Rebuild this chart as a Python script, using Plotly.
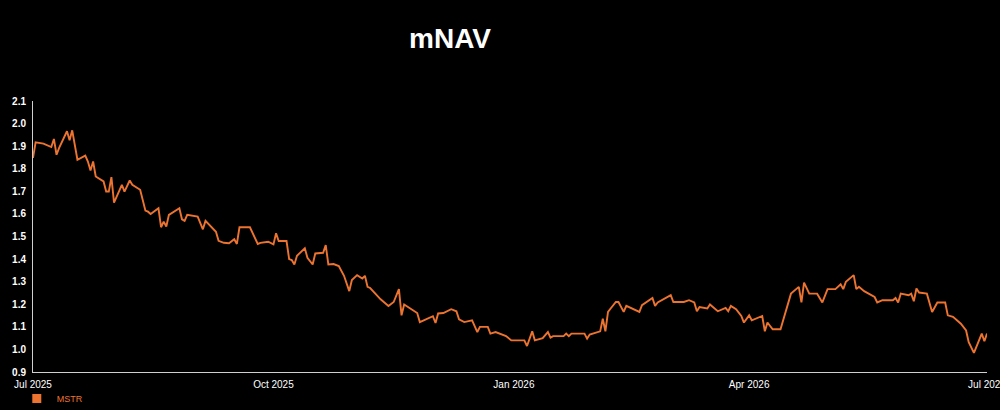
import plotly.graph_objects as go

# mNAV of MSTR
dates = [
    "2025-07-01", "2025-07-02", "2025-07-05", "2025-07-07", "2025-07-08", "2025-07-09",
    "2025-07-10", "2025-07-11", "2025-07-14", "2025-07-15", "2025-07-16", "2025-07-18",
    "2025-07-21", "2025-07-22", "2025-07-23", "2025-07-24", "2025-07-25", "2025-07-28",
    "2025-07-29", "2025-07-30", "2025-07-31", "2025-08-01", "2025-08-03", "2025-08-04",
    "2025-08-05", "2025-08-07", "2025-08-08", "2025-08-11", "2025-08-13", "2025-08-14",
    "2025-08-15", "2025-08-18", "2025-08-19", "2025-08-20", "2025-08-21", "2025-08-22",
    "2025-08-26", "2025-08-27", "2025-08-28", "2025-08-29", "2025-09-02", "2025-09-04",
    "2025-09-05", "2025-09-07", "2025-09-09", "2025-09-10", "2025-09-12", "2025-09-14",
    "2025-09-16", "2025-09-17", "2025-09-18", "2025-09-22", "2025-09-23", "2025-09-25",
    "2025-09-26", "2025-09-29", "2025-10-01", "2025-10-02", "2025-10-03", "2025-10-06",
    "2025-10-07", "2025-10-08", "2025-10-09", "2025-10-10", "2025-10-13", "2025-10-14",
    "2025-10-16", "2025-10-17", "2025-10-20", "2025-10-21", "2025-10-22", "2025-10-24",
    "2025-10-26", "2025-10-28", "2025-10-30", "2025-10-31", "2025-11-02", "2025-11-04",
    "2025-11-05", "2025-11-06", "2025-11-07", "2025-11-10", "2025-11-11", "2025-11-14",
    "2025-11-16", "2025-11-18", "2025-11-19", "2025-11-20", "2025-11-23", "2025-11-25",
    "2025-11-26", "2025-12-01", "2025-12-02", "2025-12-03", "2025-12-05", "2025-12-08",
    "2025-12-10", "2025-12-11", "2025-12-13", "2025-12-16", "2025-12-18", "2025-12-19",
    "2025-12-22", "2025-12-23", "2025-12-25", "2025-12-29", "2025-12-31", "2026-01-05",
    "2026-01-06", "2026-01-08", "2026-01-09", "2026-01-12", "2026-01-14", "2026-01-15",
    "2026-01-16", "2026-01-20", "2026-01-21", "2026-01-22", "2026-01-23", "2026-01-28",
    "2026-01-29", "2026-01-30", "2026-02-03", "2026-02-04", "2026-02-05", "2026-02-06",
    "2026-02-07", "2026-02-09", "2026-02-10", "2026-02-12", "2026-02-13", "2026-02-18",
    "2026-02-19", "2026-02-23", "2026-02-24", "2026-02-25", "2026-03-02", "2026-03-03",
    "2026-03-07", "2026-03-09", "2026-03-11", "2026-03-12", "2026-03-13", "2026-03-16",
    "2026-03-17", "2026-03-20", "2026-03-23", "2026-03-24", "2026-03-25", "2026-03-27",
    "2026-03-29", "2026-03-30", "2026-04-01", "2026-04-02", "2026-04-06", "2026-04-07",
    "2026-04-08", "2026-04-10", "2026-04-13", "2026-04-15", "2026-04-17", "2026-04-20",
    "2026-04-21", "2026-04-22", "2026-04-24", "2026-04-27", "2026-04-29", "2026-05-01",
    "2026-05-04", "2026-05-06", "2026-05-07", "2026-05-08", "2026-05-11", "2026-05-12",
    "2026-05-13", "2026-05-15", "2026-05-19", "2026-05-20", "2026-05-22", "2026-05-26",
    "2026-05-27", "2026-05-28", "2026-05-29", "2026-06-01", "2026-06-02", "2026-06-03",
    "2026-06-04", "2026-06-05", "2026-06-08", "2026-06-10", "2026-06-12", "2026-06-15",
    "2026-06-16", "2026-06-18", "2026-06-21", "2026-06-23", "2026-06-24", "2026-06-26",
    "2026-06-29", "2026-06-30", "2026-07-01",
]
mnav = [
    1.848, 1.917, 1.911, 1.899, 1.896, 1.932,
    1.862, 1.892, 1.966, 1.926, 1.970, 1.840,
    1.858, 1.832, 1.792, 1.832, 1.766, 1.744,
    1.699, 1.699, 1.763, 1.650, 1.699, 1.729,
    1.699, 1.748, 1.729, 1.707, 1.615, 1.610,
    1.600, 1.625, 1.541, 1.566, 1.544, 1.596,
    1.625, 1.576, 1.569, 1.596, 1.588, 1.532,
    1.569, 1.544, 1.521, 1.481, 1.472, 1.470,
    1.488, 1.467, 1.541, 1.541, 1.514, 1.467,
    1.472, 1.477, 1.465, 1.514, 1.480, 1.480,
    1.400, 1.396, 1.376, 1.415, 1.448, 1.406,
    1.376, 1.425, 1.428, 1.462, 1.376, 1.378,
    1.369, 1.326, 1.258, 1.307, 1.329, 1.314,
    1.326, 1.277, 1.272, 1.232, 1.222, 1.192,
    1.210, 1.267, 1.151, 1.199, 1.178, 1.161,
    1.121, 1.147, 1.117, 1.159, 1.161, 1.178,
    1.169, 1.133, 1.121, 1.129, 1.077, 1.100,
    1.100, 1.070, 1.077, 1.059, 1.040, 1.040,
    1.015, 1.080, 1.040, 1.050, 1.077, 1.052,
    1.059, 1.059, 1.070, 1.059, 1.070, 1.070,
    1.048, 1.066, 1.080, 1.136, 1.080, 1.166,
    1.181, 1.210, 1.210, 1.166, 1.193, 1.166,
    1.196, 1.228, 1.193, 1.208, 1.240, 1.210,
    1.210, 1.218, 1.208, 1.169, 1.188, 1.181,
    1.199, 1.169, 1.184, 1.169, 1.193, 1.178,
    1.148, 1.119, 1.151, 1.129, 1.148, 1.080,
    1.119, 1.089, 1.089, 1.173, 1.247, 1.277,
    1.208, 1.296, 1.247, 1.247, 1.208, 1.267,
    1.267, 1.288, 1.267, 1.299, 1.329, 1.267,
    1.277, 1.258, 1.232, 1.208, 1.218, 1.218,
    1.228, 1.208, 1.247, 1.240, 1.247, 1.213,
    1.270, 1.252, 1.247, 1.166, 1.208, 1.208,
    1.151, 1.144, 1.114, 1.084, 1.032, 0.985,
    1.070, 1.036, 1.070,
]
series_name = "MSTR"
title_text = "mNAV"
x_tick_vals = ["2025-07-01", "2025-10-01", "2026-01-01", "2026-04-01", "2026-07-01"]
x_tick_text = ["Jul 2025", "Oct 2025", "Jan 2026", "Apr 2026", "Jul 2026"]

LINE = "#ED7430"
FONT = "Liberation Sans, Arial, sans-serif"

fig = go.Figure()
fig.add_trace(go.Scatter(
    x=dates, y=mnav, mode="lines", name=series_name,
    line=dict(color=LINE, width=1.9), showlegend=False, legendgroup="m",
))
# legend entry (square swatch)
fig.add_trace(go.Scatter(
    x=[None], y=[None], mode="markers", name=series_name, legendgroup="m",
    marker=dict(symbol="square", color=LINE, size=9), showlegend=True,
))

fig.update_layout(
    width=1000, height=410,
    paper_bgcolor="black", plot_bgcolor="black",
    margin=dict(l=33, r=13, t=101, b=38, pad=0, autoexpand=False),
    font=dict(family=FONT, color="white"),
    title=dict(text="<b>" + title_text + "</b>", x=450 / 1000, xref="container",
               xanchor="center", y=1 - 38 / 410, yref="container", yanchor="middle",
               font=dict(size=28, color="white", family=FONT)),
    showlegend=True,
    legend=dict(orientation="h", x=-0.017, xanchor="left", y=-0.044, yanchor="top",
                font=dict(size=9, color=LINE, family=FONT),
                bgcolor="rgba(0,0,0,0)", itemwidth=30),
    xaxis=dict(
        type="date", range=["2025-07-01", "2026-07-01"],
        tickvals=x_tick_vals, ticktext=x_tick_text,
        showgrid=False, zeroline=False, showline=True, linecolor="#d0d0d0", linewidth=1,
        ticks="", tickfont=dict(size=10, color="white", family=FONT),
        ticklabelstandoff=3, ticklabeloverflow="allow",
    ),
    yaxis=dict(
        range=[0.9, 2.1], dtick=0.1, tick0=0.9, tickformat=".1f",
        showgrid=False, zeroline=False, showline=True, linecolor="#d0d0d0", linewidth=1,
        ticks="", tickfont=dict(size=10, color="white", family=FONT),
        ticklabelstandoff=4,
    ),
)
fig.update_xaxes(tickprefix="<b>", ticksuffix="</b>")
fig.update_yaxes(tickprefix="<b>", ticksuffix="</b>")

fig.write_html("out.html")
